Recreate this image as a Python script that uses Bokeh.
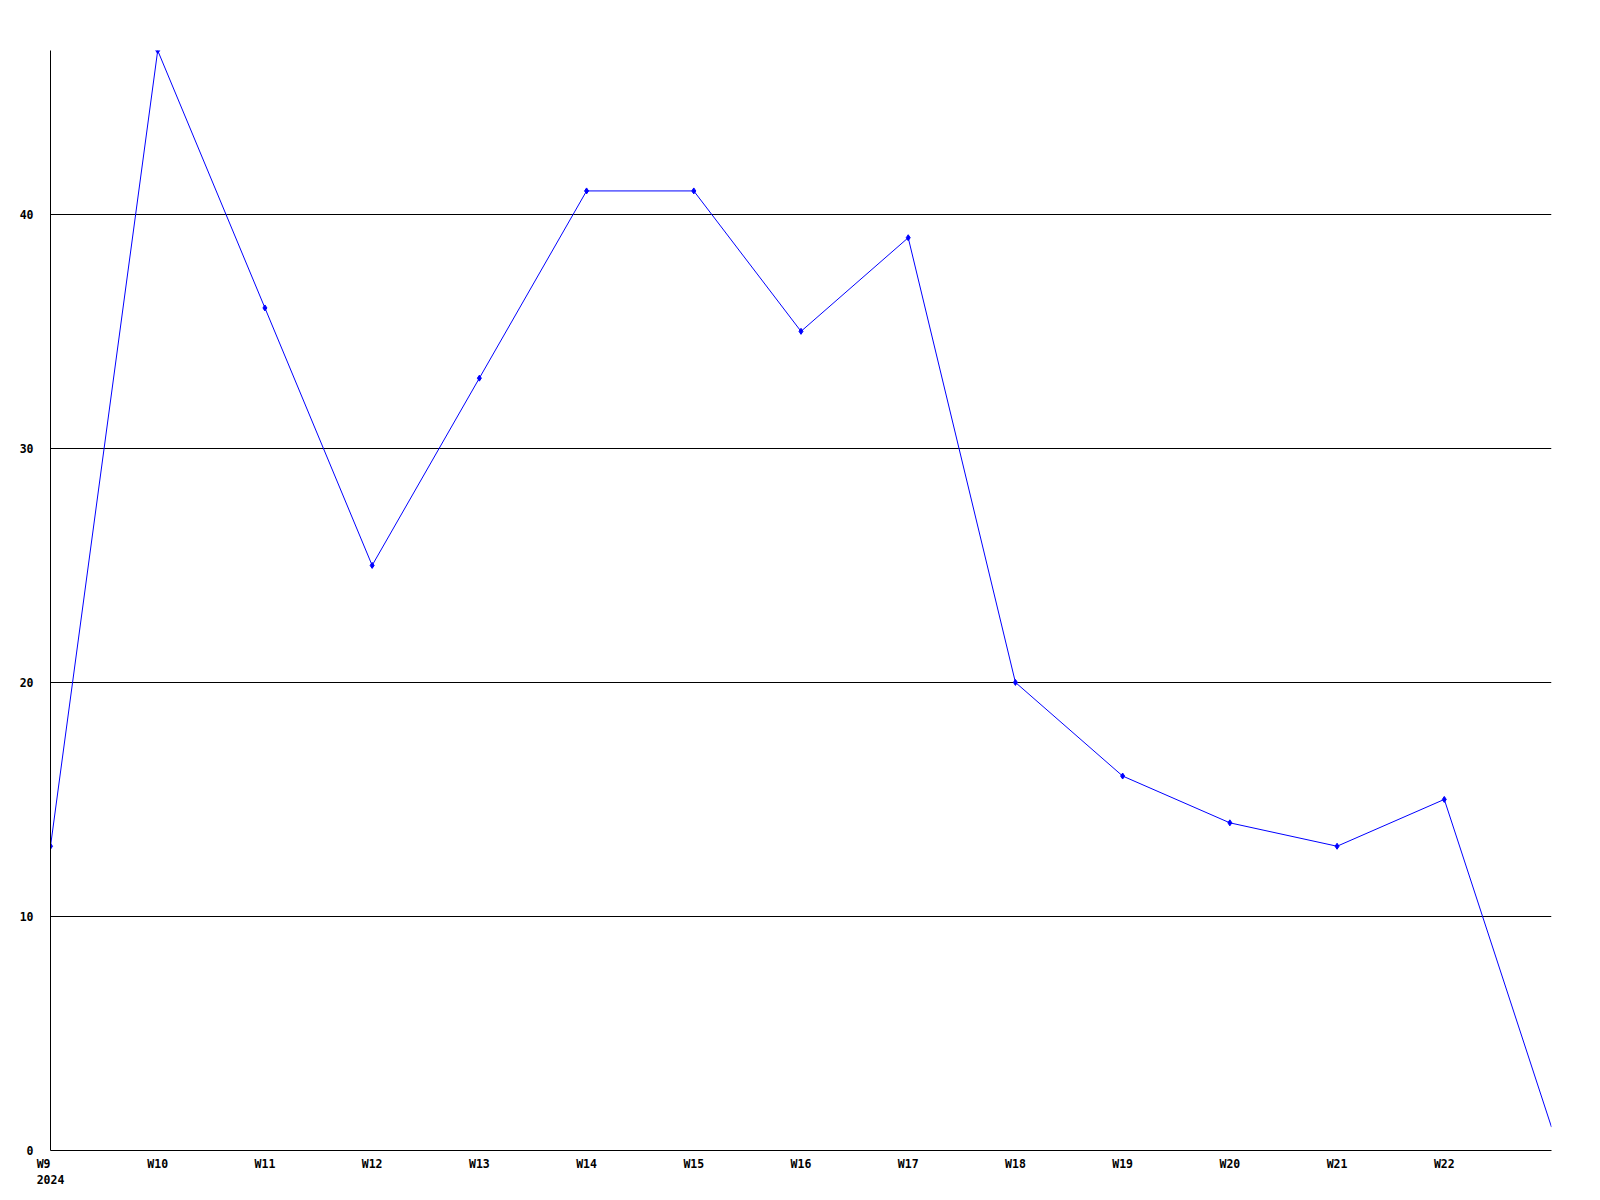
from bokeh.plotting import figure
from bokeh.models import Range1d, FixedTicker
from bokeh.embed import file_html
from bokeh.resources import INLINE

weeks = ["W9", "W10", "W11", "W12", "W13", "W14", "W15", "W16", "W17",
         "W18", "W19", "W20", "W21", "W22", "W23"]
values = [13, 47, 36, 25, 33, 41, 41, 35, 39, 20, 16, 14, 13, 15, 1]
year_label = "2024"
y_ticks = [0, 10, 20, 30, 40]

xs = list(range(len(weeks)))

p = figure(width=1590, height=1190, output_backend="svg", toolbar_location=None,
           x_range=Range1d(0, len(weeks) - 1), y_range=Range1d(0, 47),
           min_border_left=50, min_border_right=39, min_border_top=50,
           min_border_bottom=40)
p.outline_line_color = None
p.background_fill_color = "white"
p.border_fill_color = "white"

p.line(xs, values, line_color="#0000ff", line_width=1)
p.scatter(xs[:-1], values[:-1], marker="diamond", size=6, color="#0000ff")

p.xgrid.grid_line_color = None
p.ygrid.grid_line_color = "black"
p.ygrid.grid_line_width = 1
p.ygrid.ticker = FixedTicker(ticks=y_ticks)

font = "DejaVu Sans Mono"
for ax in (p.xaxis[0], p.yaxis[0]):
    ax.axis_line_color = "black"
    ax.axis_line_width = 1
    ax.major_tick_line_color = None
    ax.minor_tick_line_color = None
    ax.major_label_text_font = font
    ax.major_label_text_font_style = "bold"
    ax.major_label_text_font_size = "11.5px"
    ax.major_label_text_color = "black"

p.yaxis[0].ticker = FixedTicker(ticks=y_ticks)
p.yaxis[0].major_label_text_align = "left"
p.yaxis[0].major_label_standoff = 11

p.xaxis[0].ticker = FixedTicker(ticks=xs[:-1])
overrides = {i: w for i, w in enumerate(weeks[:-1])}
overrides[0] = weeks[0] + "  \n" + year_label
p.xaxis[0].major_label_overrides = overrides
p.xaxis[0].major_label_standoff = 0

open("out.html", "w").write(file_html(p, INLINE))
